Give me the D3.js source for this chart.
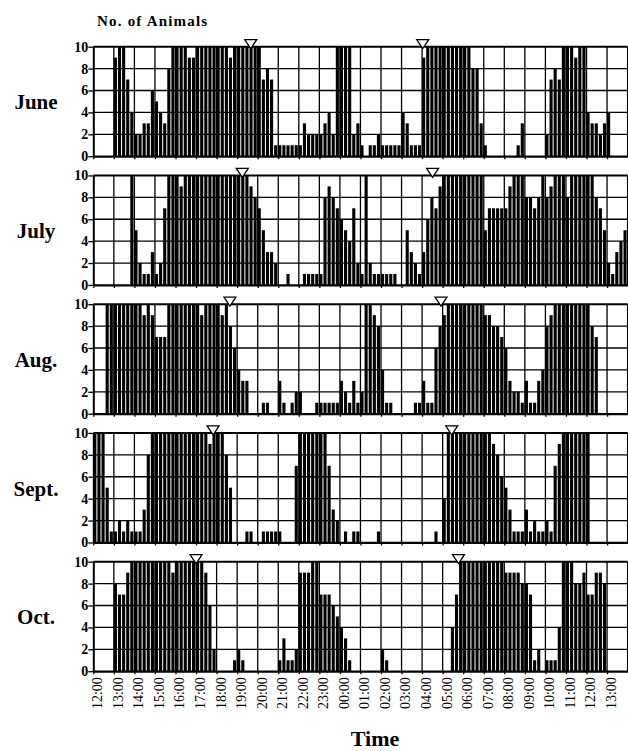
<!DOCTYPE html>
<html>
<head>
<meta charset="utf-8">
<script src="https://cdn.jsdelivr.net/npm/d3@7"></script>
<style>
  body { margin: 0; background: #fff; }
  svg { display: block; }
  text { font-family: "Liberation Serif", "Times New Roman", serif; fill: #000; }
</style>
</head>
<body>
<div id="chart"></div>
<script>
// five counts per hour (12-min slots), 12:00 -> 14:00 next day
const months = ['June', 'July', 'Aug.', 'Sept.', 'Oct.'];

const june = [
  0,0,0,0,0,  9,10,10,7,4,  2,2,3,3,6,  5,4,3,8,10,  10,10,10,9,9,  10,10,10,10,10,
  10,10,10,9,10,  10,10,10,10,10,  10,7,8,7,1,  1,1,1,1,1,  1,3,2,2,2,  2,3,4,2,10,
  10,10,10,2,3,  1,0,1,1,2,  1,1,1,1,1,  4,3,1,1,1,  9,10,10,10,10,  10,10,10,10,10,
  10,10,8,8,3,  1,0,0,0,0,  0,0,0,1,3,  0,0,0,0,0,  2,7,8,7,10,  10,10,9,10,10,
  4,3,3,2,3,  4,0,0,0,0
];
const july = [
  0,0,0,0,0,  0,0,0,0,10,  5,2,1,1,3,  1,2,7,10,10,  10,9,10,10,10,  10,10,10,10,10,
  10,10,10,10,10,  10,10,10,9,8,  7,5,3,3,2,  0,0,1,0,0,  0,1,1,1,1,  1,8,9,8,7,
  6,5,4,7,2,  1,10,2,1,1,  1,1,1,1,0,  0,5,3,2,1,  3,6,8,7,9,  10,10,10,10,10,
  10,10,10,10,10,  5,7,7,7,7,  7,9,10,10,10,  8,8,7,8,10,  8,9,10,10,10,  8,10,10,10,10,
  10,10,8,7,5,  2,1,3,4,5
];
const aug = [
  0,0,0,10,10,  10,10,10,10,10,  10,10,9,10,9,  7,7,7,10,10,  10,10,10,10,10,  10,9,10,10,10,
  10,9,10,8,6,  4,3,3,0,0,  0,1,1,0,0,  3,1,0,1,2,  2,0,0,0,1,  1,1,1,1,1,
  3,2,1,3,1,  2,10,10,9,8,  4,1,1,0,0,  0,0,0,1,1,  3,1,1,6,8,  9,10,10,10,10,
  10,10,10,10,10,  9,9,8,8,7,  6,3,2,2,1,  3,1,1,3,4,  8,9,10,10,10,  10,10,10,10,10,
  10,8,7,0,0,  0,0,0,0,0
];
const sept = [
  10,10,10,5,1,  1,2,1,2,1,  1,1,3,8,10,  10,10,10,10,10,  10,10,10,10,10,  10,10,10,9,10,
  10,10,8,5,0,  0,0,1,1,0,  0,1,1,1,1,  1,0,0,0,7,  10,10,10,10,10,  10,10,7,3,2,
  0,1,0,1,1,  0,0,0,0,1,  0,0,0,0,0,  0,0,0,0,0,  0,0,0,1,0,  4,10,10,10,10,
  10,10,10,10,10,  10,10,9,8,6,  5,3,1,1,1,  3,1,2,1,1,  2,1,7,9,10,  10,10,10,10,10,
  10,0,0,0,0,  0,0,0,0,0
];
const oct = [
  0,0,0,0,0,  8,7,7,9,10,  10,10,10,10,10,  10,10,10,10,9,  10,10,10,10,10,  10,10,9,6,2,
  0,0,0,0,1,  2,1,0,0,0,  0,0,0,0,0,  1,3,1,1,2,  9,9,9,10,10,  7,7,7,6,5,
  4,3,1,0,0,  0,0,0,0,0,  2,1,0,0,0,  0,0,0,0,0,  0,0,0,0,0,  0,0,4,7,10,
  10,10,10,10,10,  10,10,10,10,10,  9,9,9,9,8,  8,7,1,2,0,  1,1,1,4,10,  10,10,8,8,9,
  7,7,9,9,8,  0,0,0,0,0
];
const series = [june, july, aug, sept, oct];

// sunset / sunrise markers, hours after 12:00
const sunset = [7.66, 7.25, 6.65, 5.83, 5.0];
const sunrise = [16.03, 16.51, 16.92, 17.44, 17.77];

const hourLabels = ['12:00','13:00','14:00','15:00','16:00','17:00','18:00','19:00','20:00',
  '21:00','22:00','23:00','00:00','01:00','02:00','03:00','04:00','05:00','06:00','07:00',
  '08:00','09:00','10:00','11:00','12:00','13:00'];
const yTicks = [0, 2, 4, 6, 8, 10];

const config = {
  width: 628, height: 751,
  left: 93.3, right: 627.6,
  firstTop: 46.7, panelStep: 128.75, panelHeight: 109.5,
  slotsPerHour: 5, hours: 26
};

const svg = d3.select('#chart').append('svg')
    .attr('width', config.width)
    .attr('height', config.height);

const x = d3.scaleLinear()
    .domain([0, config.hours])
    .range([config.left, config.right]);

const slotW = x(1 / config.slotsPerHour) - x(0);

svg.append('text')
    .attr('x', 97)
    .attr('y', 26)
    .attr('font-size', 15)
    .attr('font-weight', 'bold')
    .attr('letter-spacing', 1.2)
    .text('No. of Animals');

series.forEach((data, i) => {
  const top = config.firstTop + i * config.panelStep;
  const y = d3.scaleLinear()
      .domain([0, 10])
      .range([top + config.panelHeight, top]);

  const g = svg.append('g');

  // bars
  g.selectAll('rect.bar')
    .data(data)
    .join('rect')
      .attr('class', 'bar')
      .attr('x', (d, j) => x(j / config.slotsPerHour))
      .attr('width', slotW - 1)
      .attr('y', d => y(d))
      .attr('height', d => y(0) - y(d))
      .attr('fill', '#000');

  // grid
  g.selectAll('line.hgrid')
    .data([2, 4, 6, 8])
    .join('line')
      .attr('x1', x(0)).attr('x2', x(config.hours))
      .attr('y1', d => y(d)).attr('y2', d => y(d))
      .attr('stroke', '#000').attr('stroke-width', 1.3);

  g.selectAll('line.vgrid')
    .data(d3.range(1, config.hours + 1))
    .join('line')
      .attr('x1', d => x(d)).attr('x2', d => x(d))
      .attr('y1', y(10)).attr('y2', y(0))
      .attr('stroke', '#000').attr('stroke-width', 1.3);

  // frame top
  g.append('line')
      .attr('x1', x(0)).attr('x2', x(config.hours))
      .attr('y1', y(10)).attr('y2', y(10))
      .attr('stroke', '#000').attr('stroke-width', 2);

  // y axis
  const yAxis = g.append('g')
      .attr('transform', `translate(${x(0)},0)`)
      .call(d3.axisLeft(y).tickValues(yTicks).tickSize(5).tickPadding(0).tickSizeOuter(0));
  yAxis.select('.domain').attr('stroke-width', 2);
  yAxis.selectAll('.tick line').attr('stroke-width', 1.3);
  yAxis.selectAll('text')
      .attr('font-family', '"Liberation Serif", serif')
      .attr('font-size', 14)
      .attr('font-weight', 'bold');

  // x axis
  const xAxis = g.append('g')
      .attr('transform', `translate(0,${y(0)})`)
      .call(d3.axisBottom(x)
        .tickValues(d3.range(0, hourLabels.length))
        .tickSize(3)
        .tickSizeOuter(0)
        .tickFormat(d => i === series.length - 1 ? hourLabels[d] : ''));
  xAxis.select('.domain').attr('stroke-width', 2.2);
  xAxis.selectAll('.tick line').attr('stroke-width', 1.3);
  if (i === series.length - 1) {
    xAxis.selectAll('text')
        .attr('font-family', '"Liberation Serif", serif')
        .attr('font-size', 14)
        .attr('text-anchor', 'end')
        .attr('transform', 'rotate(-90)')
        .attr('x', -6)
        .attr('y', 0)
        .attr('dy', '0.6em');
  }

  // sun markers
  g.selectAll('path.sun')
    .data([sunset[i], sunrise[i]])
    .join('path')
      .attr('class', 'sun')
      .attr('d', d => `M${x(d) - 6},${top - 7} L${x(d) + 6},${top - 7} L${x(d)},${top + 2} Z`)
      .attr('fill', '#fff')
      .attr('stroke', '#000')
      .attr('stroke-width', 1.3);

  // month label
  g.append('text')
      .attr('x', 36)
      .attr('y', top + config.panelHeight / 2 + 8)
      .attr('text-anchor', 'middle')
      .attr('font-size', 21)
      .attr('font-weight', 'bold')
      .text(months[i]);
});

svg.append('text')
    .attr('x', 375)
    .attr('y', 746)
    .attr('text-anchor', 'middle')
    .attr('font-size', 22)
    .attr('font-weight', 'bold')
    .text('Time');
</script>
</body>
</html>
